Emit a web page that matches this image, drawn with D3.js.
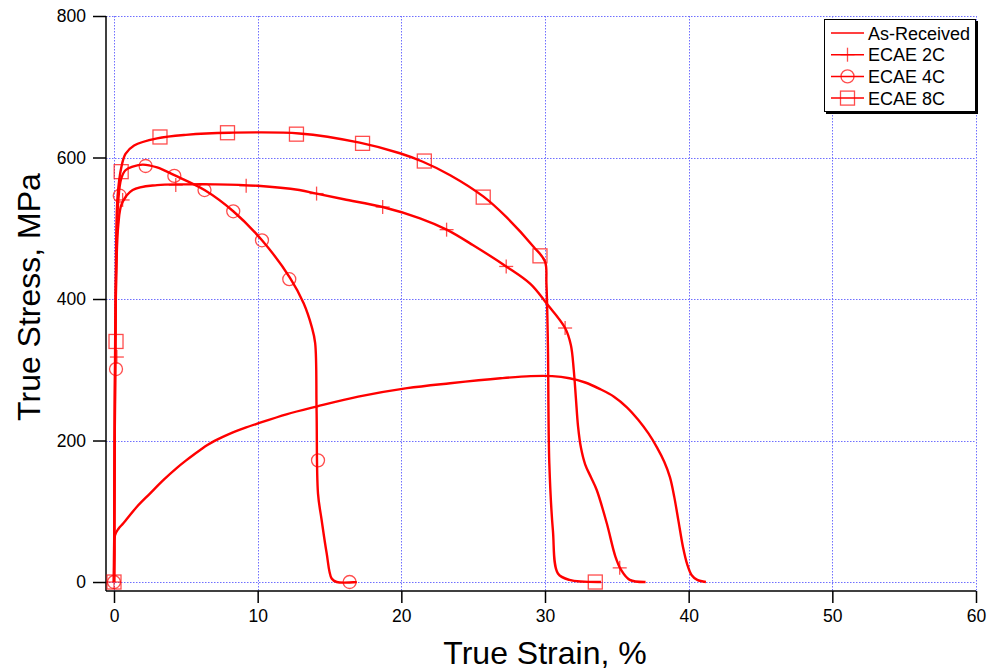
<!DOCTYPE html>
<html lang="en">
<head>
<meta charset="utf-8" />
<script src="https://d3js.org/d3.v7.min.js"></script>
<style>
  body { margin: 0; background: #fff; }
  svg { display: block; font-family: "Liberation Sans", Arial, sans-serif; }
</style>
</head>
<body>
<script>
const w = 990;
const h = 671;

// x ticks / y ticks
const xTicks = [0, 10, 20, 30, 40, 50, 60];
const yTicks = [0, 200, 400, 600, 800];

const seriesNames = ["As-Received", "ECAE 2C", "ECAE 4C", "ECAE 8C"];

// As-Received (line only)
const strainAR = [0, 0.03, 0.07, 0.3, 0.65, 1.58, 2.5, 3.43, 4.36, 5.0, 5.52, 6.0, 6.5, 7.0, 7.5, 8.0, 8.54, 9.2, 9.93, 12, 14.1, 17, 20.4, 23.4, 26.9, 29, 30.5, 31.7, 32.8, 33.8, 34.8, 35.7, 36.5, 37.2, 37.8, 38.3, 38.7, 39.0, 39.3, 39.6, 39.9, 40.2, 40.6, 41.2];
const stressAR = [0, 40, 66, 75, 83, 106, 125, 144, 161, 171.5, 179.5, 186.5, 193.5, 199.5, 204.5, 209, 213.5, 218.5, 223.5, 237, 248, 262, 274, 281, 288, 291, 291, 288, 282, 273, 262, 247, 229, 210, 190, 170, 148, 120, 85, 50, 25, 10, 3, 0];

// ECAE 2C
const strain2C = [0, 0.08, 0.15, 0.3, 0.55, 1.3, 3.0, 5, 7, 10, 12.9, 14.1, 16, 18.7, 21.3, 23.15, 25.0, 27.3, 29, 30.1, 31.4, 31.8, 32.0, 32.15, 32.3, 32.5, 32.8, 33.2, 33.6, 34.3, 34.9, 35.3, 35.9, 37.0];
const stress2C = [0, 300, 430, 505, 535, 554, 561, 562, 562, 560, 554, 549, 541, 530, 514, 498, 476, 446, 421, 394, 359, 335, 300, 260, 220, 190, 166, 148, 130, 83, 36, 17, 3, 0];
const mark2CStrain = [0, 0.2, 0.6, 4.3, 9.2, 14.1, 18.7, 23.15, 27.3, 31.4, 35.2];
const mark2CStress = [0, 318, 540, 561, 560, 549, 530, 498, 446, 359, 20];

// ECAE 4C
const strain4C = [0, 0.08, 0.15, 0.3, 0.5, 0.8, 1.3, 2.0, 3.0, 4.2, 6.3, 8.3, 10.3, 12.25, 13.2, 13.76, 14.0, 14.1, 14.2, 14.45, 14.8, 15.15, 15.5, 16.9];
const stress4C = [0, 300, 440, 540, 570, 582, 587, 590, 586, 575, 554, 524, 483, 430, 394, 361, 338, 243, 125, 88, 41, 5, 0, 0];
const mark4CStrain = [0, 0.14, 0.4, 2.2, 4.2, 6.3, 8.3, 10.3, 12.2, 14.2, 16.4];
const mark4CStress = [0, 301, 546, 588, 574, 554, 524, 483, 428, 172, 0];

// ECAE 8C
const strain8C = [0, 0.08, 0.15, 0.25, 0.5, 0.8, 1.4, 3, 5, 8, 12.9, 17.1, 19.9, 21.5, 23.4, 25.7, 27.3, 29.2, 30.0, 30.1, 30.2, 30.3, 30.55, 30.9, 31.7, 33.9];
const stress8C = [0, 340, 480, 545, 585, 605, 617, 627, 632, 635, 634, 621, 606, 594, 575, 545, 516, 474, 453, 422, 338, 168, 73, 12, 3, 0];
const mark8CStrain = [0, 0.14, 0.5, 3.2, 7.9, 12.7, 17.3, 21.6, 25.7, 29.65, 33.5];
const mark8CStress = [0, 340, 580, 629, 635, 633, 620, 595, 544, 461, 0];

const red = "#ff0000";

const zip = (xs, ys) => xs.map((x, i) => [x, ys[i]]);

const xScale = d3.scaleLinear().domain([-0.557, 60]).range([106, 976]);
const yScale = d3.scaleLinear().domain([-12.7, 800]).range([591, 16]);

const svg = d3.select("body").append("svg")
  .attr("width", w)
  .attr("height", h);

// grid
const grid = svg.append("g")
  .attr("stroke", "#6f6fff")
  .attr("stroke-width", 1)
  .attr("stroke-dasharray", "1.5,1.5");
grid.selectAll(".gx").data(xTicks).enter().append("line")
  .attr("x1", d => Math.round(xScale(d)) + 0.5)
  .attr("x2", d => Math.round(xScale(d)) + 0.5)
  .attr("y1", yScale(800)).attr("y2", 591);
grid.selectAll(".gy").data(yTicks).enter().append("line")
  .attr("y1", d => Math.round(yScale(d)) + 0.5)
  .attr("y2", d => Math.round(yScale(d)) + 0.5)
  .attr("x1", 106).attr("x2", xScale(60));

// axes
const xAxis = d3.axisBottom(xScale).tickValues(xTicks).tickSize(12).tickPadding(7).tickSizeOuter(0);
const yAxis = d3.axisLeft(yScale).tickValues(yTicks).tickSize(13).tickPadding(7).tickSizeOuter(0);

const gx = svg.append("g")
  .attr("transform", "translate(0,591)")
  .call(xAxis);
const gy = svg.append("g")
  .attr("transform", "translate(106,0)")
  .call(yAxis);

[gx, gy].forEach(g => {
  g.select(".domain").attr("stroke", "#000").attr("stroke-width", 1.5);
  g.selectAll(".tick line").attr("stroke", "#000").attr("stroke-width", 1.5);
  g.selectAll(".tick text")
    .attr("fill", "#000")
    .style("font-size", "17.5px")
    .style("font-family", "'Liberation Sans', Arial, sans-serif");
});
gx.select(".domain").attr("d", "M106,0H976");
gy.select(".domain").attr("d", `M0,${yScale(800)}V591`);

// axis titles
svg.append("text")
  .attr("x", 545)
  .attr("y", 664)
  .attr("text-anchor", "middle")
  .style("font-size", "32px")
  .text("True Strain, %");

svg.append("text")
  .attr("transform", "translate(40,297) rotate(-90)")
  .attr("text-anchor", "middle")
  .style("font-size", "32px")
  .text("True Stress, MPa");

// curves
const line = d3.line()
  .x(d => xScale(d[0]))
  .y(d => yScale(d[1]))
  .curve(d3.curveCatmullRom.alpha(0.5));

const curves = [
  zip(strainAR, stressAR),
  zip(strain2C, stress2C),
  zip(strain4C, stress4C),
  zip(strain8C, stress8C)
];

svg.append("g").selectAll("path")
  .data(curves)
  .enter()
  .append("path")
  .attr("d", line)
  .attr("fill", "none")
  .attr("stroke", red)
  .attr("stroke-width", 2.4)
  .attr("stroke-linejoin", "round");

// markers
function drawMarker(g, type, cx, cy) {
  const s = g.append("g")
    .attr("fill", "none")
    .attr("stroke", red)
    .attr("stroke-opacity", 0.7)
    .attr("stroke-width", 1.3);
  if (type === "plus") {
    s.append("line").attr("x1", cx - 7).attr("x2", cx + 7).attr("y1", cy).attr("y2", cy);
    s.append("line").attr("x1", cx).attr("x2", cx).attr("y1", cy - 7).attr("y2", cy + 7);
  } else if (type === "circle") {
    s.append("circle").attr("cx", cx).attr("cy", cy).attr("r", 6.5);
  } else if (type === "square") {
    s.append("rect").attr("x", cx - 7).attr("y", cy - 7).attr("width", 14).attr("height", 14);
  }
}

const markerSets = [
  { type: "plus", pts: zip(mark2CStrain, mark2CStress) },
  { type: "circle", pts: zip(mark4CStrain, mark4CStress) },
  { type: "square", pts: zip(mark8CStrain, mark8CStress) }
];

const mg = svg.append("g");
markerSets.forEach(set => {
  set.pts.forEach(p => drawMarker(mg, set.type, xScale(p[0]), yScale(p[1])));
});

// legend
const legend = svg.append("g");
legend.append("rect")
  .attr("x", 826).attr("y", 21)
  .attr("width", 152).attr("height", 93)
  .attr("fill", "#000");
legend.append("rect")
  .attr("x", 824.5).attr("y", 19.5)
  .attr("width", 151).attr("height", 92)
  .attr("fill", "#fff")
  .attr("stroke", "#000")
  .attr("stroke-width", 1);

const legendTypes = ["none", "plus", "circle", "square"];
seriesNames.forEach((name, i) => {
  const cy = 33 + i * 21.7;
  legend.append("line")
    .attr("x1", 831).attr("x2", 864)
    .attr("y1", cy).attr("y2", cy)
    .attr("stroke", red)
    .attr("stroke-width", 1.5);
  if (legendTypes[i] !== "none") drawMarker(legend, legendTypes[i], 847.5, cy);
  legend.append("text")
    .attr("x", 868)
    .attr("y", cy + 6.5)
    .style("font-size", "18px")
    .text(name);
});
</script>
</body>
</html>
